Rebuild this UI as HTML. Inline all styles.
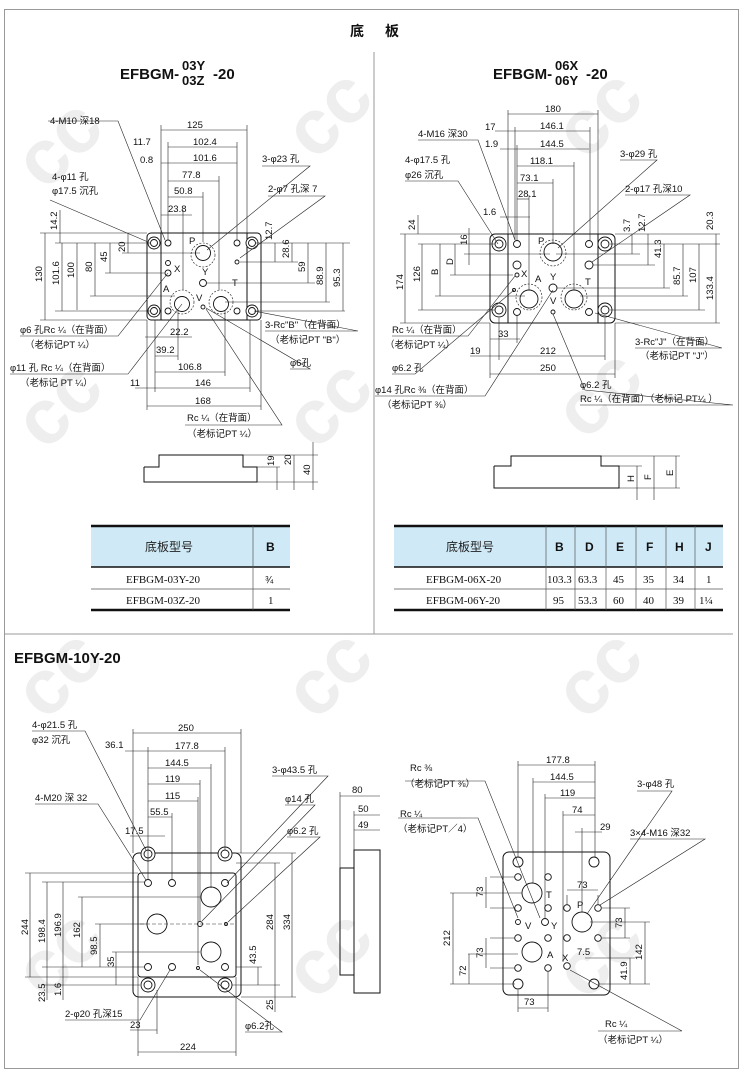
<!DOCTYPE html>
<html><head><meta charset="utf-8">
<style>
html,body{margin:0;padding:0;background:#fff;}
svg{display:block;font-family:"Liberation Sans","Noto Sans CJK SC",sans-serif;}
.t{font-size:9.5px;fill:#111;}
.c{font-size:9.5px;fill:#111;}
.d{stroke:#222;stroke-width:0.6;fill:none;}
.o{stroke:#111;stroke-width:1;fill:none;}
.h{stroke:#111;stroke-width:0.9;fill:#fff;}
.s{stroke:#111;stroke-width:0.6;fill:none;stroke-dasharray:2,1.5;}
.w{font-size:78px;font-weight:bold;fill:#d9d9d9;opacity:0.45;}
</style></head><body>
<svg width="750" height="1076" viewBox="0 0 750 1076" xmlns="http://www.w3.org/2000/svg">
<!-- watermarks -->
<g class="w">
<text x="20" y="170" transform="rotate(-45 60 150)">cc</text>
<text x="290" y="140" transform="rotate(-45 330 120)">cc</text>
<text x="560" y="140" transform="rotate(-45 600 120)">cc</text>
<text x="20" y="430" transform="rotate(-45 60 410)">cc</text>
<text x="290" y="430" transform="rotate(-45 330 410)">cc</text>
<text x="560" y="420" transform="rotate(-45 600 400)">cc</text>
<text x="20" y="700" transform="rotate(-45 60 680)">cc</text>
<text x="290" y="700" transform="rotate(-45 330 680)">cc</text>
<text x="560" y="700" transform="rotate(-45 600 680)">cc</text>
<text x="20" y="980" transform="rotate(-45 60 960)">cc</text>
<text x="290" y="980" transform="rotate(-45 330 960)">cc</text>
<text x="560" y="980" transform="rotate(-45 600 960)">cc</text>
</g>
<!-- frame -->
<rect x="4.5" y="9.5" width="734" height="1059" fill="none" stroke="#999" stroke-width="1"/>
<line x1="374" y1="52" x2="374" y2="634" stroke="#999"/>
<line x1="5" y1="634" x2="733" y2="634" stroke="#999"/>
<text x="350" y="36" font-size="14" font-weight="bold" fill="#111">底</text>
<text x="385" y="36" font-size="14" font-weight="bold" fill="#111">板</text>
<text x="120" y="79" font-size="15" font-weight="bold" fill="#111">EFBGM-</text>
<text x="182" y="70" font-size="13" font-weight="bold" fill="#111">03Y</text>
<text x="182" y="85" font-size="13" font-weight="bold" fill="#111">03Z</text>
<text x="213" y="79" font-size="15" font-weight="bold" fill="#111">-20</text>
<text x="493" y="79" font-size="15" font-weight="bold" fill="#111">EFBGM-</text>
<text x="555" y="70" font-size="13" font-weight="bold" fill="#111">06X</text>
<text x="555" y="85" font-size="13" font-weight="bold" fill="#111">06Y</text>
<text x="586" y="79" font-size="15" font-weight="bold" fill="#111">-20</text>
<text x="14" y="663" font-size="15" font-weight="bold" fill="#111">EFBGM-10Y-20</text>

<!-- ===== Drawing 1 ===== -->
<g>
<rect x="147" y="233" width="114" height="87" rx="4" class="o"/>
<line x1="161" y1="233" x2="161" y2="320" class="o"/>
<line x1="247" y1="233" x2="247" y2="320" class="o"/>
<g class="h"><circle cx="154" cy="243" r="6"/><circle cx="252" cy="243" r="6"/><circle cx="154" cy="311" r="6"/><circle cx="252" cy="311" r="6"/></g>
<g class="h"><circle cx="154" cy="243" r="3.5"/><circle cx="252" cy="243" r="3.5"/><circle cx="154" cy="311" r="3.5"/><circle cx="252" cy="311" r="3.5"/></g>
<g class="h"><circle cx="168" cy="243" r="3"/><circle cx="237" cy="243" r="3"/><circle cx="168" cy="311" r="3"/><circle cx="237" cy="311" r="3"/><circle cx="168" cy="263" r="2.5"/><circle cx="237" cy="262" r="2"/><circle cx="168" cy="273" r="3"/><circle cx="203" cy="283" r="3.5"/><circle cx="203" cy="307" r="2"/></g>
<circle cx="203" cy="255" r="12" class="s"/><circle cx="182" cy="302" r="12" class="s"/><circle cx="221" cy="302" r="12" class="s"/>
<g class="h"><circle cx="203" cy="253" r="7.5"/><circle cx="182" cy="304" r="7.5"/><circle cx="221" cy="304" r="7.5"/></g>
<g class="c"><text x="189" y="244">P</text><text x="174" y="272">X</text><text x="202" y="275">Y</text><text x="163" y="292">A</text><text x="196" y="301">V</text><text x="232" y="286">T</text></g>
<g class="d">
<line x1="161" y1="130" x2="247" y2="130"/><line x1="168" y1="147" x2="237" y2="147"/><line x1="161" y1="163" x2="237" y2="163"/><line x1="168" y1="181" x2="219" y2="181"/><line x1="168" y1="197" x2="203" y2="197"/><line x1="161" y1="215" x2="192" y2="215"/>
<line x1="161" y1="125" x2="161" y2="233"/><line x1="247" y1="125" x2="247" y2="233"/><line x1="168" y1="142" x2="168" y2="240"/><line x1="237" y1="142" x2="237" y2="240"/><line x1="219" y1="176" x2="219" y2="290"/><line x1="203" y1="192" x2="203" y2="242"/><line x1="183" y1="210" x2="183" y2="290"/>
<line x1="45" y1="233" x2="45" y2="320"/><line x1="62" y1="243" x2="62" y2="311"/><line x1="77" y1="243" x2="77" y2="310"/><line x1="95" y1="243" x2="95" y2="296"/><line x1="110" y1="243" x2="110" y2="273"/><line x1="128" y1="233" x2="128" y2="253"/><line x1="60" y1="210" x2="60" y2="243"/>
<line x1="40" y1="233" x2="147" y2="233"/><line x1="55" y1="243" x2="150" y2="243"/><line x1="40" y1="320" x2="147" y2="320"/><line x1="55" y1="311" x2="150" y2="311"/><line x1="90" y1="296" x2="175" y2="296"/><line x1="105" y1="273" x2="165" y2="273"/><line x1="122" y1="253" x2="200" y2="253"/>
<line x1="275" y1="243" x2="275" y2="262"/><line x1="292" y1="243" x2="292" y2="262"/><line x1="308" y1="243" x2="308" y2="283"/><line x1="326" y1="243" x2="326" y2="302"/><line x1="343" y1="243" x2="343" y2="311"/>
<line x1="255" y1="243" x2="350" y2="243"/><line x1="240" y1="262" x2="298" y2="262"/><line x1="206" y1="283" x2="315" y2="283"/><line x1="225" y1="302" x2="330" y2="302"/><line x1="255" y1="311" x2="345" y2="311"/>
<line x1="145" y1="337" x2="192" y2="337"/><line x1="155" y1="356" x2="178" y2="356"/><line x1="155" y1="372" x2="225" y2="372"/><line x1="135" y1="388" x2="250" y2="388"/><line x1="147" y1="406" x2="261" y2="406"/>
<line x1="147" y1="320" x2="147" y2="410"/><line x1="155" y1="320" x2="155" y2="392"/><line x1="178" y1="310" x2="178" y2="360"/><line x1="225" y1="310" x2="225" y2="376"/><line x1="250" y1="320" x2="250" y2="392"/><line x1="261" y1="320" x2="261" y2="410"/>
<polyline points="48,121 118,121 165,240"/><polyline points="50,200 148,242"/><polyline points="262,166 310,166 207,250"/><polyline points="268,196 325,196 240,258"/>
<polyline points="20,336 118,336 168,273"/><polyline points="10,374 128,374 182,304"/><polyline points="265,331 358,331 254,311"/><polyline points="290,369 310,369 206,308"/><polyline points="185,425 282,425 206,309"/>
</g>
<g class="t">
<text x="187" y="128">125</text><text x="193" y="145">102.4</text><text x="193" y="161">101.6</text><text x="182" y="178">77.8</text><text x="174" y="194">50.8</text><text x="168" y="212">23.8</text>
<text x="133" y="145">11.7</text><text x="140" y="163">0.8</text>
<text x="170" y="335">22.2</text><text x="156" y="353">39.2</text><text x="178" y="370">106.8</text><text x="195" y="386">146</text><text x="195" y="404">168</text><text x="130" y="386">11</text>
<text x="50" y="124">4-M10 深18</text><text x="52" y="180">4-φ11 孔</text><text x="52" y="194">φ17.5 沉孔</text><text x="262" y="162">3-φ23 孔</text><text x="268" y="192">2-φ7 孔深 7</text>
<text x="20" y="333">φ6 孔Rc ¼（在背面）</text><text x="25" y="348">（老标记PT ¼）</text><text x="10" y="371">φ11 孔 Rc ¼（在背面）</text><text x="20" y="386">（老标记 PT ¼）</text>
<text x="265" y="328">3-Rc"B"（在背面）</text><text x="270" y="343">（老标记PT "B"）</text><text x="290" y="366">φ6孔</text><text x="187" y="421">Rc ¼（在背面）</text><text x="187" y="437">（老标记PT ¼）</text>
</g>
<g class="t">
<text transform="translate(42,282) rotate(-90)">130</text><text transform="translate(59,285) rotate(-90)">101.6</text><text transform="translate(74,278) rotate(-90)">100</text><text transform="translate(92,272) rotate(-90)">80</text><text transform="translate(107,262) rotate(-90)">45</text><text transform="translate(125,252) rotate(-90)">20</text><text transform="translate(57,230) rotate(-90)">14.2</text>
<text transform="translate(272,240) rotate(-90)">12.7</text><text transform="translate(289,258) rotate(-90)">28.6</text><text transform="translate(305,272) rotate(-90)">59</text><text transform="translate(323,285) rotate(-90)">88.9</text><text transform="translate(340,287) rotate(-90)">95.3</text>
</g>
<!-- side view 1 -->
<polyline points="144,467 159,467 159,455 243,455 243,467 257,467 257,482 144,482 144,467" class="o"/>
<g class="d"><line x1="277" y1="467" x2="277" y2="490"/><line x1="294" y1="455" x2="294" y2="490"/><line x1="313" y1="442" x2="313" y2="490"/><line x1="257" y1="467" x2="280" y2="467"/><line x1="243" y1="455" x2="318" y2="455"/><line x1="257" y1="482" x2="318" y2="482"/></g>
<g class="t"><text transform="translate(274,466) rotate(-90)">19</text><text transform="translate(291,465) rotate(-90)">20</text><text transform="translate(310,475) rotate(-90)">40</text></g>
</g>

<!-- table 1 -->
<rect x="91" y="527" width="199" height="40" fill="#cfeaf6"/>
<line x1="91" y1="526" x2="290" y2="526" stroke="#111" stroke-width="2.5"/>
<line x1="91" y1="567" x2="290" y2="567" stroke="#111" stroke-width="1.5"/>
<line x1="91" y1="589" x2="290" y2="589" stroke="#555" stroke-width="0.7"/>
<line x1="91" y1="610" x2="290" y2="610" stroke="#111" stroke-width="2.5"/>
<line x1="253" y1="526" x2="253" y2="610" stroke="#555" stroke-width="0.7"/>
<text x="145" y="551" font-size="12" fill="#222">底板型号</text><text x="266" y="551" font-size="12" font-weight="bold" fill="#111">B</text>
<text x="126" y="583" font-size="11" fill="#111" font-family="Liberation Serif">EFBGM-03Y-20</text><text x="265" y="583" font-size="10" fill="#111">¾</text>
<text x="126" y="604" font-size="11" fill="#111" font-family="Liberation Serif">EFBGM-03Z-20</text><text x="268" y="604" font-size="11" fill="#111" font-family="Liberation Serif">1</text>

<!-- table 2 -->
<rect x="394" y="527" width="329" height="40" fill="#cfeaf6"/>
<line x1="394" y1="526" x2="723" y2="526" stroke="#111" stroke-width="2.5"/>
<line x1="394" y1="567" x2="723" y2="567" stroke="#111" stroke-width="1.5"/>
<line x1="394" y1="589" x2="723" y2="589" stroke="#555" stroke-width="0.7"/>
<line x1="394" y1="610" x2="723" y2="610" stroke="#111" stroke-width="2.5"/>
<g stroke="#555" stroke-width="0.7"><line x1="546" y1="526" x2="546" y2="610"/><line x1="575" y1="526" x2="575" y2="610"/><line x1="606" y1="526" x2="606" y2="610"/><line x1="636" y1="526" x2="636" y2="610"/><line x1="666" y1="526" x2="666" y2="610"/><line x1="695" y1="526" x2="695" y2="610"/></g>
<text x="446" y="551" font-size="12" fill="#222">底板型号</text>
<g font-size="12" font-weight="bold" fill="#111"><text x="555" y="551">B</text><text x="585" y="551">D</text><text x="616" y="551">E</text><text x="646" y="551">F</text><text x="675" y="551">H</text><text x="705" y="551">J</text></g>
<g font-size="11" fill="#111" font-family="Liberation Serif">
<text x="426" y="583">EFBGM-06X-20</text><text x="547" y="583">103.3</text><text x="578" y="583">63.3</text><text x="613" y="583">45</text><text x="643" y="583">35</text><text x="673" y="583">34</text><text x="706" y="583">1</text>
<text x="426" y="604">EFBGM-06Y-20</text><text x="553" y="604">95</text><text x="578" y="604">53.3</text><text x="613" y="604">60</text><text x="643" y="604">40</text><text x="673" y="604">39</text><text x="699" y="604">1¼</text></g>

<!-- ===== Drawing 2 ===== -->
<rect x="490" y="234" width="125" height="89" rx="5" class="o"/>
<line x1="508" y1="234" x2="508" y2="323" class="o"/><line x1="598" y1="234" x2="598" y2="323" class="o"/>
<g class="h"><circle cx="499" cy="244" r="7"/><circle cx="605" cy="244" r="7"/><circle cx="499" cy="310" r="7"/><circle cx="605" cy="310" r="7"/><circle cx="499" cy="244" r="4"/><circle cx="605" cy="244" r="4"/><circle cx="499" cy="310" r="4"/><circle cx="605" cy="310" r="4"/></g>
<circle cx="553" cy="253" r="13" class="s"/><circle cx="529" cy="297" r="13" class="s"/><circle cx="574" cy="297" r="13" class="s"/>
<g class="h"><circle cx="553" cy="252" r="9"/><circle cx="529" cy="299" r="9"/><circle cx="574" cy="299" r="9"/>
<circle cx="517" cy="244" r="3.5"/><circle cx="589" cy="244" r="3.5"/><circle cx="517" cy="265" r="4"/><circle cx="589" cy="265" r="4"/><circle cx="553" cy="288" r="4"/><circle cx="517" cy="312" r="3.5"/><circle cx="589" cy="312" r="3.5"/><circle cx="553" cy="312" r="2"/><circle cx="514" cy="290" r="1.5"/><circle cx="517" cy="275" r="2"/></g>
<g class="c"><text x="538" y="244">P</text><text x="521" y="277">X</text><text x="535" y="282">A</text><text x="550" y="280">Y</text><text x="585" y="285">T</text><text x="550" y="304">V</text></g>
<g class="d">
<line x1="508" y1="114" x2="598" y2="114"/><line x1="495" y1="131" x2="590" y2="131"/><line x1="500" y1="149" x2="589" y2="149"/><line x1="517" y1="166" x2="574" y2="166"/><line x1="517" y1="183" x2="553" y2="183"/><line x1="517" y1="199" x2="529" y2="199"/><line x1="500" y1="217" x2="530" y2="217"/>
<line x1="508" y1="110" x2="508" y2="234"/><line x1="598" y1="110" x2="598" y2="234"/><line x1="515" y1="127" x2="515" y2="240"/><line x1="517" y1="145" x2="517" y2="240"/><line x1="590" y1="127" x2="590" y2="240"/><line x1="574" y1="162" x2="574" y2="290"/><line x1="553" y1="179" x2="553" y2="244"/><line x1="529" y1="195" x2="529" y2="290"/>
<line x1="405" y1="234" x2="405" y2="323"/><line x1="422" y1="244" x2="422" y2="310"/><line x1="440" y1="244" x2="440" y2="296"/><line x1="455" y1="244" x2="455" y2="275"/><line x1="469" y1="228" x2="469" y2="265"/><line x1="418" y1="215" x2="418" y2="234"/>
<line x1="400" y1="234" x2="490" y2="234"/><line x1="418" y1="244" x2="495" y2="244"/><line x1="400" y1="323" x2="490" y2="323"/><line x1="418" y1="310" x2="495" y2="310"/><line x1="435" y1="296" x2="525" y2="296"/><line x1="450" y1="275" x2="513" y2="275"/><line x1="464" y1="254" x2="550" y2="254"/>
<line x1="632" y1="234" x2="632" y2="254"/><line x1="648" y1="234" x2="648" y2="265"/><line x1="664" y1="244" x2="664" y2="288"/><line x1="683" y1="244" x2="683" y2="296"/><line x1="699" y1="244" x2="699" y2="310"/><line x1="716" y1="234" x2="716" y2="323"/>
<line x1="615" y1="234" x2="720" y2="234"/><line x1="610" y1="244" x2="720" y2="244"/><line x1="556" y1="254" x2="640" y2="254"/><line x1="593" y1="265" x2="655" y2="265"/><line x1="557" y1="288" x2="670" y2="288"/><line x1="580" y1="296" x2="688" y2="296"/><line x1="610" y1="310" x2="705" y2="310"/><line x1="615" y1="323" x2="720" y2="323"/>
<line x1="490" y1="339" x2="520" y2="339"/><line x1="470" y1="356" x2="605" y2="356"/><line x1="490" y1="374" x2="615" y2="374"/>
<line x1="490" y1="323" x2="490" y2="378"/><line x1="499" y1="318" x2="499" y2="360"/><line x1="517" y1="316" x2="517" y2="343"/><line x1="605" y1="318" x2="605" y2="360"/><line x1="615" y1="323" x2="615" y2="378"/>
<polyline points="418,140 478,140 515,240"/><polyline points="405,181 458,181 498,244"/><polyline points="620,160 657,160 558,248"/><polyline points="625,195 690,195 592,262"/>
<polyline points="392,336 468,336 515,276"/><polyline points="392,374 415,374 514,290"/><polyline points="375,396 485,396 553,290"/><polyline points="635,348 722,348 595,313"/><polyline points="580,405 733,405 585,390 553,314"/>
</g>
<g class="t">
<text x="545" y="112">180</text><text x="485" y="130">17</text><text x="540" y="129">146.1</text><text x="485" y="147">1.9</text><text x="540" y="147">144.5</text><text x="530" y="164">118.1</text><text x="520" y="181">73.1</text><text x="518" y="197">28.1</text><text x="483" y="215">1.6</text>
<text x="498" y="337">33</text><text x="470" y="354">19</text><text x="540" y="354">212</text><text x="540" y="371">250</text>
<text x="418" y="137">4-M16 深30</text><text x="405" y="163">4-φ17.5 孔</text><text x="405" y="178">φ26 沉孔</text><text x="620" y="157">3-φ29 孔</text><text x="625" y="192">2-φ17 孔深10</text>
<text x="392" y="333">Rc ¼（在背面）</text><text x="385" y="348">（老标记PT ¼）</text><text x="392" y="371">φ6.2 孔</text><text x="375" y="393">φ14 孔Rc ⅜（在背面）</text><text x="382" y="408">（老标记PT ⅜）</text>
<text x="635" y="345">3-Rc"J"（在背面）</text><text x="640" y="359">（老标记PT "J"）</text><text x="580" y="388">φ6.2 孔</text><text x="580" y="402">Rc ¼（在背面）（老标记 PT¼ ）</text>
</g>
<g class="t">
<text transform="translate(403,290) rotate(-90)">174</text><text transform="translate(420,282) rotate(-90)">126</text><text transform="translate(438,275) rotate(-90)">B</text><text transform="translate(453,265) rotate(-90)">D</text><text transform="translate(467,245) rotate(-90)">16</text><text transform="translate(415,230) rotate(-90)">24</text>
<text transform="translate(630,232) rotate(-90)">3.7</text><text transform="translate(645,232) rotate(-90)">12.7</text><text transform="translate(661,258) rotate(-90)">41.3</text><text transform="translate(680,285) rotate(-90)">85.7</text><text transform="translate(696,283) rotate(-90)">107</text><text transform="translate(713,300) rotate(-90)">133.4</text><text transform="translate(713,230) rotate(-90)">20.3</text>
</g>
<!-- side view 2 -->
<polyline points="494,466 511,466 511,456 601,456 601,466 619,466 619,488 494,488 494,466" class="o"/>
<g class="d"><line x1="637" y1="466" x2="637" y2="500"/><line x1="654" y1="456" x2="654" y2="500"/><line x1="676" y1="456" x2="676" y2="488"/><line x1="619" y1="466" x2="642" y2="466"/><line x1="601" y1="456" x2="680" y2="456"/><line x1="619" y1="488" x2="680" y2="488"/></g>
<g class="t"><text transform="translate(634,482) rotate(-90)">H</text><text transform="translate(651,480) rotate(-90)">F</text><text transform="translate(673,476) rotate(-90)">E</text></g>

<!-- ===== Drawing 3 ===== -->
<rect x="133" y="853" width="108" height="144" rx="6" class="o"/>
<rect x="138" y="873" width="98" height="104" rx="3" class="o"/>
<g class="h"><circle cx="148" cy="854" r="7"/><circle cx="225" cy="854" r="7"/><circle cx="148" cy="985" r="7"/><circle cx="225" cy="985" r="7"/><circle cx="148" cy="854" r="4"/><circle cx="225" cy="854" r="4"/><circle cx="148" cy="985" r="4"/><circle cx="225" cy="985" r="4"/>
<circle cx="148" cy="883" r="3.5"/><circle cx="172" cy="883" r="3.5"/><circle cx="225" cy="883" r="3.5"/><circle cx="148" cy="967" r="3.5"/><circle cx="172" cy="967" r="3.5"/><circle cx="225" cy="967" r="3.5"/>
<circle cx="211" cy="897" r="10"/><circle cx="157" cy="924" r="10"/><circle cx="211" cy="952" r="10"/><circle cx="200" cy="924" r="2.5"/><circle cx="226" cy="924" r="1.5"/><circle cx="198" cy="968" r="1.5"/></g>
<line x1="140" y1="924" x2="236" y2="924" stroke="#333" stroke-width="0.5" stroke-dasharray="4,2"/>
<g class="d">
<line x1="133" y1="733" x2="241" y2="733"/><line x1="125" y1="751" x2="225" y2="751"/><line x1="148" y1="768" x2="211" y2="768"/><line x1="148" y1="784" x2="200" y2="784"/><line x1="148" y1="801" x2="198" y2="801"/><line x1="148" y1="817" x2="172" y2="817"/><line x1="130" y1="836" x2="165" y2="836"/>
<line x1="133" y1="729" x2="133" y2="853"/><line x1="241" y1="729" x2="241" y2="853"/><line x1="148" y1="747" x2="148" y2="880"/><line x1="225" y1="747" x2="225" y2="850"/><line x1="211" y1="764" x2="211" y2="888"/><line x1="200" y1="780" x2="200" y2="921"/><line x1="198" y1="797" x2="198" y2="965"/><line x1="172" y1="813" x2="172" y2="880"/>
<line x1="30" y1="873" x2="30" y2="977"/><line x1="47" y1="882" x2="47" y2="985"/><line x1="63" y1="882" x2="63" y2="967"/><line x1="82" y1="897" x2="82" y2="967"/><line x1="100" y1="924" x2="100" y2="967"/><line x1="116" y1="952" x2="116" y2="985"/><line x1="47" y1="985" x2="47" y2="1000"/><line x1="63" y1="967" x2="63" y2="1000"/>
<line x1="25" y1="873" x2="138" y2="873"/><line x1="42" y1="882" x2="145" y2="882"/><line x1="42" y1="967" x2="145" y2="967"/><line x1="25" y1="977" x2="138" y2="977"/><line x1="78" y1="897" x2="200" y2="897"/><line x1="95" y1="924" x2="147" y2="924"/><line x1="112" y1="952" x2="200" y2="952"/><line x1="42" y1="985" x2="140" y2="985"/>
<line x1="258" y1="967" x2="258" y2="985"/><line x1="275" y1="863" x2="275" y2="985"/><line x1="292" y1="853" x2="292" y2="997"/><line x1="275" y1="985" x2="275" y2="1012"/>
<line x1="235" y1="853" x2="296" y2="853"/><line x1="236" y1="863" x2="280" y2="863"/><line x1="236" y1="967" x2="262" y2="967"/><line x1="232" y1="985" x2="280" y2="985"/><line x1="241" y1="997" x2="296" y2="997"/>
<line x1="130" y1="1030" x2="157" y2="1030"/><line x1="138" y1="1052" x2="236" y2="1052"/><line x1="138" y1="977" x2="138" y2="1056"/><line x1="236" y1="977" x2="236" y2="1056"/><line x1="157" y1="990" x2="157" y2="1034"/>
<polyline points="32,731 85,731 146,850"/><polyline points="35,804 98,804 146,880"/><polyline points="272,776 328,776 227,883"/><polyline points="285,805 315,805 202,921"/><polyline points="287,837 320,837 228,922"/><polyline points="65,1020 140,1020 170,970"/><polyline points="245,1032 282,1032 200,970"/>
</g>
<g class="t">
<text x="178" y="731">250</text><text x="175" y="749">177.8</text><text x="165" y="766">144.5</text><text x="165" y="782">119</text><text x="165" y="799">115</text><text x="150" y="815">55.5</text><text x="125" y="834">17.5</text><text x="105" y="748">36.1</text>
<text x="130" y="1028">23</text><text x="180" y="1050">224</text>
<text x="32" y="728">4-φ21.5 孔</text><text x="32" y="743">φ32 沉孔</text><text x="35" y="801">4-M20 深 32</text><text x="272" y="773">3-φ43.5 孔</text><text x="285" y="802">φ14 孔</text><text x="287" y="834">φ6.2 孔</text><text x="65" y="1017">2-φ20 孔深15</text><text x="245" y="1029">φ6.2孔</text>
</g>
<g class="t">
<text transform="translate(28,935) rotate(-90)">244</text><text transform="translate(45,943) rotate(-90)">198.4</text><text transform="translate(61,937) rotate(-90)">196.9</text><text transform="translate(80,938) rotate(-90)">162</text><text transform="translate(97,955) rotate(-90)">98.5</text><text transform="translate(114,967) rotate(-90)">35</text><text transform="translate(45,1002) rotate(-90)">23.5</text><text transform="translate(61,996) rotate(-90)">1.6</text>
<text transform="translate(256,964) rotate(-90)">43.5</text><text transform="translate(273,930) rotate(-90)">284</text><text transform="translate(290,930) rotate(-90)">334</text><text transform="translate(273,1010) rotate(-90)">25</text>
</g>
<!-- side view 3 -->
<rect x="340" y="868" width="14" height="107" class="o"/>
<rect x="354" y="850" width="26" height="143" class="o"/>
<g class="d"><line x1="340" y1="796" x2="380" y2="796"/><line x1="354" y1="815" x2="380" y2="815"/><line x1="354" y1="830" x2="380" y2="830"/><line x1="340" y1="792" x2="340" y2="868"/><line x1="354" y1="811" x2="354" y2="850"/></g>
<g class="t"><text x="352" y="793">80</text><text x="358" y="812">50</text><text x="358" y="828">49</text></g>

<!-- ===== Drawing 4 ===== -->
<rect x="503" y="852" width="107" height="143" rx="6" class="o"/>
<g class="h"><circle cx="518" cy="862" r="5"/><circle cx="594" cy="862" r="5"/><circle cx="518" cy="984" r="5"/><circle cx="594" cy="984" r="5"/>
<circle cx="532" cy="893" r="10"/><circle cx="582" cy="922" r="10"/><circle cx="532" cy="952" r="10"/>
<circle cx="518" cy="877" r="3.3"/><circle cx="548" cy="877" r="3.3"/><circle cx="518" cy="908" r="3.3"/><circle cx="548" cy="908" r="3.3"/><circle cx="567" cy="908" r="3.3"/><circle cx="598" cy="908" r="3.3"/><circle cx="518" cy="938" r="3.3"/><circle cx="548" cy="938" r="3.3"/><circle cx="567" cy="938" r="3.3"/><circle cx="598" cy="938" r="3.3"/><circle cx="518" cy="968" r="3.3"/><circle cx="548" cy="968" r="3.3"/><circle cx="567" cy="966" r="3.3"/><circle cx="518" cy="922" r="2.5"/><circle cx="545" cy="922" r="3.5"/></g>
<g class="c"><text x="546" y="898">T</text><text x="577" y="908">P</text><text x="525" y="929">V</text><text x="551" y="929">Y</text><text x="547" y="958">A</text><text x="562" y="961">X</text></g>
<g class="d">
<line x1="518" y1="765" x2="595" y2="765"/><line x1="533" y1="782" x2="595" y2="782"/><line x1="545" y1="798" x2="595" y2="798"/><line x1="563" y1="815" x2="595" y2="815"/><line x1="575" y1="832" x2="602" y2="832"/>
<line x1="518" y1="761" x2="518" y2="857"/><line x1="595" y1="761" x2="595" y2="857"/><line x1="533" y1="778" x2="533" y2="883"/><line x1="545" y1="794" x2="545" y2="918"/><line x1="563" y1="811" x2="563" y2="962"/><line x1="582" y1="828" x2="582" y2="912"/>
<line x1="490" y1="877" x2="515" y2="877"/><line x1="490" y1="908" x2="515" y2="908"/><line x1="490" y1="938" x2="515" y2="938"/><line x1="490" y1="968" x2="515" y2="968"/><line x1="450" y1="893" x2="522" y2="893"/><line x1="468" y1="954" x2="518" y2="954"/><line x1="450" y1="984" x2="515" y2="984"/>
<line x1="486" y1="877" x2="486" y2="908"/><line x1="486" y1="938" x2="486" y2="968"/><line x1="453" y1="893" x2="453" y2="984"/><line x1="469" y1="954" x2="469" y2="984"/>
<line x1="567" y1="890" x2="598" y2="890"/><line x1="567" y1="895" x2="567" y2="905"/><line x1="598" y1="895" x2="598" y2="905"/>
<line x1="602" y1="908" x2="630" y2="908"/><line x1="602" y1="938" x2="630" y2="938"/><line x1="625" y1="908" x2="625" y2="938"/><line x1="585" y1="958" x2="635" y2="958"/><line x1="598" y1="984" x2="650" y2="984"/><line x1="590" y1="922" x2="650" y2="922"/><line x1="630" y1="958" x2="630" y2="984"/><line x1="645" y1="922" x2="645" y2="984"/>
<line x1="518" y1="990" x2="518" y2="1012"/><line x1="548" y1="972" x2="548" y2="1012"/><line x1="518" y1="1008" x2="548" y2="1008"/>
<polyline points="405,781 485,781 540,918"/><polyline points="398,818 478,818 518,918"/><polyline points="637,791 672,791 587,914"/><polyline points="630,839 705,839 600,905"/><polyline points="598,1031 682,1031 570,970"/>
</g>
<g class="t">
<text x="546" y="763">177.8</text><text x="550" y="780">144.5</text><text x="560" y="796">119</text><text x="572" y="813">74</text><text x="600" y="830">29</text><text x="577" y="888">73</text><text x="577" y="955">7.5</text><text x="524" y="1005">73</text>
<text x="410" y="771">Rc ⅜</text><text x="405" y="787">（老标记PT ⅜）</text><text x="400" y="817">Rc ¼</text><text x="398" y="832">（老标记PT／4）</text><text x="637" y="787">3-φ48 孔</text><text x="630" y="836">3×4-M16 深32</text><text x="605" y="1027">Rc ¼</text><text x="598" y="1043">（老标记PT ¼）</text>
</g>
<g class="t">
<text transform="translate(483,897) rotate(-90)">73</text><text transform="translate(483,958) rotate(-90)">73</text><text transform="translate(450,946) rotate(-90)">212</text><text transform="translate(466,976) rotate(-90)">72</text>
<text transform="translate(622,928) rotate(-90)">73</text><text transform="translate(627,980) rotate(-90)">41.9</text><text transform="translate(642,960) rotate(-90)">142</text>
</g>
</svg>
</body></html>
